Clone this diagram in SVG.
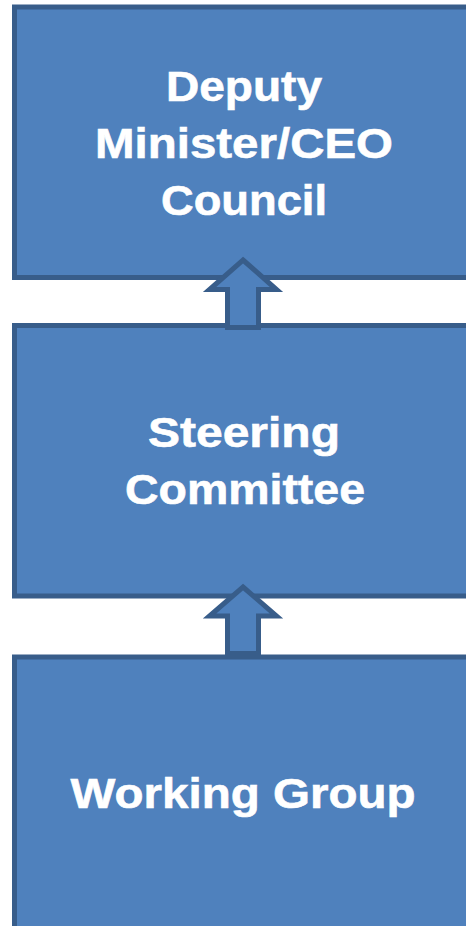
<svg xmlns="http://www.w3.org/2000/svg" width="466" height="926" viewBox="0 0 466 926">
<style>
.box{fill:#4F81BD;stroke:#385D8A;stroke-width:5}
.arrow{fill:#4F81BD;stroke:#385D8A;stroke-width:5;stroke-linejoin:miter}
.lbl{font-family:"Liberation Sans",Arial,sans-serif;font-weight:bold;font-size:42.5px;fill:#FFFFFF;stroke:#FFFFFF;stroke-width:0.6;text-anchor:middle}
</style>
<rect width="466" height="926" fill="#FFFFFF"/>
<g id="node-council">
<rect class="box" x="14.5" y="7" width="480" height="270.5"/>
<text class="lbl" x="244" y="101" textLength="156" lengthAdjust="spacingAndGlyphs">Deputy</text>
<text class="lbl" x="244" y="158" textLength="298" lengthAdjust="spacingAndGlyphs">Minister/CEO</text>
<text class="lbl" x="244" y="215" textLength="166" lengthAdjust="spacingAndGlyphs">Council</text>
</g>
<g id="node-steering">
<rect class="box" x="14.5" y="325.5" width="480" height="270.5"/>
<text class="lbl" x="244" y="447" textLength="192" lengthAdjust="spacingAndGlyphs">Steering</text>
<text class="lbl" x="245" y="504" textLength="240" lengthAdjust="spacingAndGlyphs">Committee</text>
</g>
<g id="node-working">
<rect class="box" x="14.5" y="657" width="480" height="300"/>
<text class="lbl" x="243" y="808" textLength="345" lengthAdjust="spacingAndGlyphs">Working Group</text>
</g>
<g id="connectors">
<polygon class="arrow" points="243,260 276.5,289.5 258.5,289.5 258.5,327.5 227.5,327.5 227.5,289.5 209.5,289.5"/>
<polygon class="arrow" points="243,587 276.5,616 258.5,616 258.5,653.5 227.5,653.5 227.5,616 209.5,616"/>
</g>
</svg>
